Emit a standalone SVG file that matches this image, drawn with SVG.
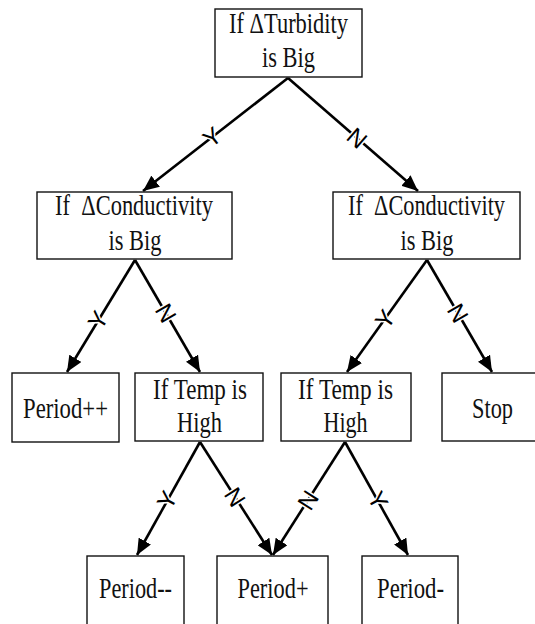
<svg xmlns="http://www.w3.org/2000/svg" width="535" height="624" viewBox="0 0 535 624">
<defs>
<style>
.box{fill:#fff;stroke:#111;stroke-width:1.4}
.t{font-family:"Liberation Serif","Times New Roman","DejaVu Serif",serif;font-size:29px;fill:#111;text-anchor:middle}
.c{stroke:#000;stroke-width:2.6;fill:none;marker-end:url(#ah)}
.l{font-family:"Liberation Sans",Arial,sans-serif;font-size:24px;fill:#000;text-anchor:middle;dominant-baseline:central;stroke:#fff;stroke-width:3;paint-order:stroke}
</style>
<marker id="ah" markerUnits="userSpaceOnUse" markerWidth="17" markerHeight="14" refX="16" refY="7" orient="auto">
<path d="M0,0 L16,7 L0,14 z" fill="#000"/>
</marker>
</defs>
<rect width="535" height="624" fill="#fff"/>
<g id="connectors">
<line class="c" x1="288" y1="78" x2="143" y2="191"/>
<line class="c" x1="288" y1="78" x2="418" y2="191"/>
<line class="c" x1="135" y1="260" x2="67" y2="372"/>
<line class="c" x1="135" y1="260" x2="200" y2="372"/>
<line class="c" x1="427" y1="260" x2="347" y2="372"/>
<line class="c" x1="427" y1="260" x2="492" y2="372"/>
<line class="c" x1="200" y1="442" x2="137" y2="555"/>
<line class="c" x1="200" y1="442" x2="272" y2="555"/>
<line class="c" x1="345" y1="442" x2="273" y2="555"/>
<line class="c" x1="345" y1="442" x2="408" y2="555"/>
<text class="l" transform="translate(212,137) rotate(-37.9)">Y</text>
<text class="l" transform="translate(357,138) rotate(41)">N</text>
<text class="l" transform="translate(98,320) rotate(-58.7)">Y</text>
<text class="l" transform="translate(166,313) rotate(59.9)">N</text>
<text class="l" transform="translate(385,319) rotate(-54.5)">Y</text>
<text class="l" transform="translate(458,313) rotate(59.9)">N</text>
<text class="l" transform="translate(167,500) rotate(-60.9)">Y</text>
<text class="l" transform="translate(235,497) rotate(57.5)">N</text>
<text class="l" transform="translate(308,500) rotate(-57.5)">N</text>
<text class="l" transform="translate(378,500) rotate(60.9)">Y</text>
</g>
<g id="n-turbidity">
<rect class="box" x="215" y="9" width="147" height="68"/>
<text class="t" x="288.5" y="33" textLength="119" lengthAdjust="spacingAndGlyphs">If ΔTurbidity</text>
<text class="t" x="288.5" y="67" textLength="53" lengthAdjust="spacingAndGlyphs">is Big</text>
</g>
<g id="n-cond-left">
<rect class="box" x="37" y="192" width="195" height="67"/>
<text class="t" x="134" y="215" textLength="158" lengthAdjust="spacingAndGlyphs" xml:space="preserve">If  ΔConductivity</text>
<text class="t" x="135" y="250" textLength="53" lengthAdjust="spacingAndGlyphs">is Big</text>
</g>
<g id="n-cond-right">
<rect class="box" x="333" y="192" width="187" height="67"/>
<text class="t" x="426.5" y="215" textLength="157" lengthAdjust="spacingAndGlyphs" xml:space="preserve">If  ΔConductivity</text>
<text class="t" x="427" y="250" textLength="53" lengthAdjust="spacingAndGlyphs">is Big</text>
</g>
<g id="n-period-pp">
<rect class="box" x="12" y="373" width="107" height="69"/>
<text class="t" x="65.5" y="418" textLength="85" lengthAdjust="spacingAndGlyphs">Period++</text>
</g>
<g id="n-temp-left">
<rect class="box" x="135" y="373" width="128" height="68"/>
<text class="t" x="200" y="399" textLength="94" lengthAdjust="spacingAndGlyphs">If Temp is</text>
<text class="t" x="199.5" y="432" textLength="45" lengthAdjust="spacingAndGlyphs">High</text>
</g>
<g id="n-temp-right">
<rect class="box" x="281" y="373" width="130" height="68"/>
<text class="t" x="345.5" y="399" textLength="95" lengthAdjust="spacingAndGlyphs">If Temp is</text>
<text class="t" x="345.5" y="432" textLength="44" lengthAdjust="spacingAndGlyphs">High</text>
</g>
<g id="n-stop">
<rect class="box" x="442" y="373" width="101" height="68"/>
<text class="t" x="492.5" y="418" textLength="41" lengthAdjust="spacingAndGlyphs">Stop</text>
</g>
<g id="n-period-mm">
<rect class="box" x="87" y="556" width="97" height="70"/>
<text class="t" x="135.5" y="598" textLength="73" lengthAdjust="spacingAndGlyphs">Period--</text>
</g>
<g id="n-period-p">
<rect class="box" x="217" y="556" width="111" height="70"/>
<text class="t" x="273" y="598" textLength="71" lengthAdjust="spacingAndGlyphs">Period+</text>
</g>
<g id="n-period-m">
<rect class="box" x="362" y="556" width="96" height="70"/>
<text class="t" x="410.5" y="598" textLength="67" lengthAdjust="spacingAndGlyphs">Period-</text>
</g>
</svg>
